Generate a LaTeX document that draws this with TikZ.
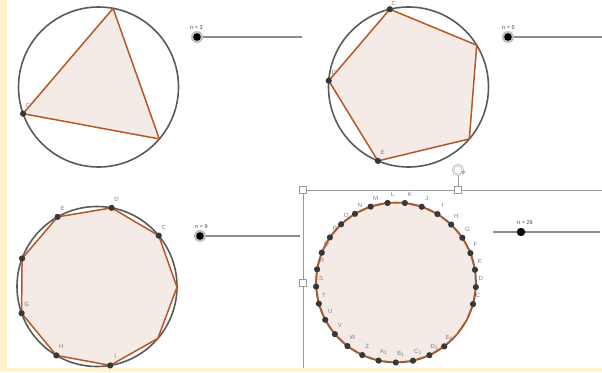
\documentclass[tikz,border=0pt]{standalone}
\usepackage{fontspec}
\setmainfont{Liberation Sans}
\usetikzlibrary{arrows.meta}
\definecolor{cream}{RGB}{255,242,204}
\definecolor{polyfill}{RGB}{244,234,230}
\definecolor{polyedge}{RGB}{180,88,38}
\definecolor{circgray}{RGB}{90,90,90}
\definecolor{ptdark}{RGB}{55,55,55}
\definecolor{lblgray}{RGB}{125,125,125}
\definecolor{slidergray}{RGB}{140,140,140}
\definecolor{selgray}{RGB}{155,155,155}
\tikzset{
  circ/.style={draw=circgray, line width=1.6pt},
  poly/.style={draw=polyedge, fill=polyfill, line width=1.5pt, line join=round},
  vlabel/.style={text=lblgray, font=\fontsize{6}{7}\selectfont, inner sep=0pt},
  slabel/.style={text=black!75, font=\fontsize{5.5}{6}\selectfont, inner sep=0pt, anchor=south west},
  sline/.style={draw=slidergray, line width=2.2pt},
  halo/.style={fill=black!25},
  knob/.style={fill=black},
  handle/.style={draw=selgray, fill=white, minimum size=6.5pt, inner sep=0pt, line width=0.9pt, rectangle},
  selline/.style={draw=selgray, line width=1pt},
}
% #1 prefix, #2 n, #3 n-1, #4 cx, #5 cy
\newcommand\mkpoly[5]{%
  \coordinate (#1-O) at (#4,#5);
  \foreach \i in {0,...,#3} {\coordinate (#1-\i) at ({#4+80*cos(-40.5+\i*360/#2)},{#5-80*sin(-40.5+\i*360/#2)});}
  \draw[circ] (#1-O) circle (80pt);
  \path[poly] (#1-0) \foreach \i in {1,...,#3}{-- (#1-\i)} -- cycle;
}
\newcommand\mkdot[2]{\fill[ptdark] (#1-#2) circle (3.1pt);}
\newcommand\mkpt[3]{% prefix, index, label
  \mkdot{#1}{#2}
  \node[vlabel] (#1-l#2) at ([xshift=5pt,yshift=8.5pt]#1-#2) {#3};
}
\begin{document}
\begin{tikzpicture}[x=1pt,y=-1pt]
\useasboundingbox (0,0) rectangle (602,372);
\fill[cream] (0,0) rectangle (602,372);
\fill[white] (7,0) rectangle (602,368);

% ---- triangle
\mkpoly{T}{3}{2}{98.5}{87}
\mkpt{T}{2}{C}

% ---- pentagon
\mkpoly{P}{5}{4}{408.5}{87}
\mkdot{P}{2}
\node[vlabel] (P-l2) at ([xshift=4pt,yshift=6pt]P-2) {C};
\foreach \i/\t in {3/D,4/E} {\mkpt{P}{\i}{\t}}

% ---- nonagon
\mkpoly{N}{9}{8}{97}{286.5}
\foreach \i/\t in {2/C,3/D,4/E,5/F,6/G,7/H,8/I} {\mkpt{N}{\i}{\t}}

% ---- 29-gon
\mkpoly{W}{29}{28}{396}{282.5}
\foreach \i/\t in {2/C,3/D,4/E,5/F,6/G,7/H,8/I,9/J,10/K,11/L,12/M,13/N,14/O,15/P,16/Q,17/R,18/S,19/T,20/U,21/V,22/W,23/Z,24/A\textsubscript{1},25/B\textsubscript{1},26/C\textsubscript{1},27/D\textsubscript{1},28/E\textsubscript{1}} {\mkpt{W}{\i}{\t}}

% ---- sliders
\coordinate (s1) at (197,37);  \coordinate (s1e) at (302,37);
\coordinate (s2) at (508,37);  \coordinate (s2e) at (602,37);
\coordinate (s3) at (200,236); \coordinate (s3e) at (300,236);
\coordinate (s4) at (521,232); \coordinate (s4b) at (493,232); \coordinate (s4e) at (600,232);
\draw[sline] (s1) -- (s1e);
\draw[sline] (s2) -- (s2e);
\draw[sline] (s3) -- (s3e);
\draw[sline] (s4b) -- (s4e);
\foreach \s in {s1,s2,s3} {\fill[halo] (\s) circle (6pt); \fill[knob] (\s) circle (3.8pt);}
\fill[knob] (s4) circle (4.2pt);
\node[slabel] (n3) at ([xshift=-7pt,yshift=7pt]s1) {n = 3};
\node[slabel] (n5) at ([xshift=-6pt,yshift=7pt]s2) {n = 5};
\node[slabel] (n9) at ([xshift=-5pt,yshift=7pt]s3) {n = 9};
\node[slabel] (n29) at ([xshift=-4pt,yshift=7pt]s4) {n = 29};

% ---- selection frame
\coordinate (fTL) at (303,190);
\coordinate (fTR) at (602,190);
\coordinate (fBL) at (303,368);
\coordinate (rotbase) at (458,190);
\coordinate (rot) at (458,170);
\draw[selline] (fTR) -- (fTL) -- (fBL);
\draw[selline] (rotbase) -- ([yshift=-5.5pt]rot);
\node[handle] (h1) at (fTL) {};
\node[handle] (h2) at (rotbase) {};
\node[handle] (h3) at (303,283) {};
\draw[selgray!80, line width=2pt] (rot) circle (5pt);
\draw[white, line width=0.7pt] (rot) circle (5pt);
\fill[white] ([xshift=3pt,yshift=-1pt]rot) rectangle ([xshift=7pt,yshift=-6pt]rot);
\fill[selgray!80] ([xshift=2.5pt,yshift=-1pt]rot) -- ([xshift=7.5pt,yshift=-1pt]rot) -- ([xshift=5pt,yshift=-5pt]rot) -- cycle;
\end{tikzpicture}
\end{document}
